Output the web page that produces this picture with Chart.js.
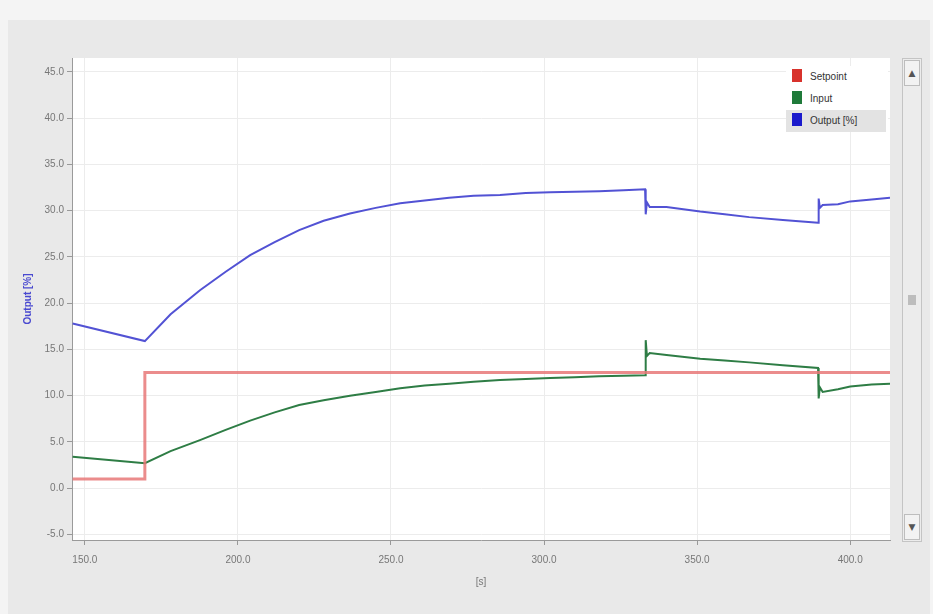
<!DOCTYPE html>
<html>
<head>
<meta charset="utf-8">
<script src="https://cdn.jsdelivr.net/npm/chart.js@4/dist/chart.umd.min.js"></script>
<style>
  html, body { margin: 0; padding: 0; background: #f4f4f4; }
  #wrap { position: relative; width: 933px; height: 614px; overflow: hidden; }
  #panel { position: absolute; left: 8px; top: 20px; width: 922px; height: 594px; background: #e9e9e9; }
  #c { position: absolute; left: 0; top: 0; }
  #scroll { position: absolute; left: 902px; top: 58px; width: 20px; height: 484px;
            background: #ececec; border: 1px solid #c4c4c4; box-sizing: border-box; }
  #scroll .btn { position: absolute; left: 1px; width: 16px; height: 26px; background: #f2f2f2;
                 border: 1px solid #bdbdbd; box-sizing: border-box; font: 9px "DejaVu Sans"; color: #555;
                 text-align: center; line-height: 24px; }
  #scroll .thumb { position: absolute; left: 5px; top: 236px; width: 8px; height: 10px; background: #bdbdbd; }
  #legend { position: absolute; left: 786px; top: 66px; width: 102px; font: 10px "Liberation Sans", sans-serif;
            color: #333; background: #fff; }
  #legend div { height: 22px; line-height: 22px; padding-left: 6px; }
  #legend span.sw { display: inline-block; width: 10px; height: 13px; vertical-align: -2px; margin-right: 8px; }
</style>
</head>
<body>
<div id="wrap">
  <div id="panel"></div>
  <canvas id="c" width="933" height="614"></canvas>
  <div id="legend">
    <div><span class="sw" style="background:#d8322c"></span>Setpoint</div>
    <div><span class="sw" style="background:#1f7a3a"></span>Input</div>
    <div style="background:#e3e3e3;margin-right:2px"><span class="sw" style="background:#1a1acc"></span>Output [%]</div>
  </div>
  <div id="scroll">
    <div class="btn" style="top:1px">&#9650;</div>
    <div class="thumb"></div>
    <div class="btn" style="bottom:1px">&#9660;</div>
  </div>
</div>
<script>
// Time axis [s] and series
const xTicks = [150, 200, 250, 300, 350, 400];
const yTicks = [-5, 0, 5, 10, 15, 20, 25, 30, 35, 40, 45];

const setpointT = [146, 169.6, 169.6, 413];
const setpointV = [1.0, 1.0, 12.5, 12.5];

const inputT = [146, 169.6, 178, 187.6, 196, 204, 212, 220, 228, 236.6, 245, 253, 261, 269, 277, 285.6, 294, 302, 310, 318, 326, 333,
                333.2, 333.6, 334.5, 340, 351, 359, 367, 378, 389.5, 389.7, 390.1, 391, 396, 400, 407, 413];
const inputV = [3.4, 2.7, 4.0, 5.2, 6.3, 7.3, 8.2, 9.0, 9.5, 10.0, 10.4, 10.8, 11.1, 11.3, 11.5, 11.7, 11.8, 11.9, 12.0, 12.1, 12.15, 12.2,
                16.0, 14.3, 14.6, 14.4, 14.0, 13.8, 13.6, 13.3, 13.0, 9.7, 10.9, 10.4, 10.7, 11.0, 11.2, 11.3];

const outputT = [146, 169.6, 178, 187.6, 196, 204, 212, 220, 228, 236.6, 245, 253, 261, 269, 277, 285.6, 294, 302, 310, 318, 326, 333,
                 333.2, 333.6, 334.5, 340, 351, 359, 367, 378, 389.5, 389.7, 390.1, 391, 396, 400, 407, 413];
const outputV = [17.8, 15.9, 18.8, 21.4, 23.4, 25.2, 26.6, 27.9, 28.9, 29.7, 30.3, 30.8, 31.1, 31.4, 31.6, 31.7, 31.9, 32.0, 32.05, 32.1, 32.2, 32.3,
                 29.6, 30.9, 30.4, 30.4, 29.9, 29.6, 29.3, 29.0, 28.7, 31.3, 30.3, 30.6, 30.7, 31.0, 31.2, 31.4];

const toPts = (t, v) => t.map((x, i) => ({ x: x, y: v[i] }));

new Chart(document.getElementById('c').getContext('2d'), {
  type: 'line',
  data: {
    datasets: [
      { label: 'Setpoint', data: toPts(setpointT, setpointV), borderColor: 'rgba(232,120,120,0.85)', borderWidth: 3, pointRadius: 0, tension: 0 },
      { label: 'Input', data: toPts(inputT, inputV), borderColor: '#2e7d45', borderWidth: 2, pointRadius: 0, tension: 0 },
      { label: 'Output [%]', data: toPts(outputT, outputV), borderColor: '#5252d4', borderWidth: 2, pointRadius: 0, tension: 0 }
    ]
  },
  options: {
    responsive: false,
    animation: false,
    layout: { padding: { left: 20, top: 58, right: 43, bottom: 24 } },
    plugins: { legend: { display: false }, tooltip: { enabled: false } },
    scales: {
      x: {
        type: 'linear', min: 145.8, max: 413,
        afterBuildTicks: (s) => { s.ticks = xTicks.map(v => ({ value: v })); },
        afterFit: (s) => { s.height = 50; },
        ticks: { color: '#777', padding: 9, font: { family: 'Liberation Sans', size: 10 }, callback: (v) => v.toFixed(1) },
        grid: { color: '#ececec', tickColor: '#999', tickLength: 5 },
        border: { color: '#9a9a9a' },
        title: { display: true, text: '[s]', color: '#777', font: { family: 'Liberation Sans', size: 10 }, padding: 2 }
      },
      y: {
        min: -5.6, max: 46.5,
        afterBuildTicks: (s) => { s.ticks = yTicks.map(v => ({ value: v })); },
        afterFit: (s) => { s.width = 52; },
        ticks: { color: '#777', font: { family: 'Liberation Sans', size: 10 }, callback: (v) => v.toFixed(1) },
        grid: { color: '#ececec', tickColor: '#999', tickLength: 5 },
        border: { color: '#9a9a9a' },
        title: { display: true, text: 'Output [%]', color: '#4a4ad0', font: { family: 'Liberation Sans', size: 10, weight: 'bold' }, padding: 2 }
      }
    }
  },
  plugins: [{
    id: 'plotBg',
    beforeDraw: (chart) => {
      const a = chart.chartArea, ctx = chart.ctx;
      ctx.save();
      ctx.fillStyle = '#ffffff';
      ctx.fillRect(a.left, a.top, a.right - a.left, a.bottom - a.top);
      ctx.restore();
    }
  }]
});
</script>
</body>
</html>
